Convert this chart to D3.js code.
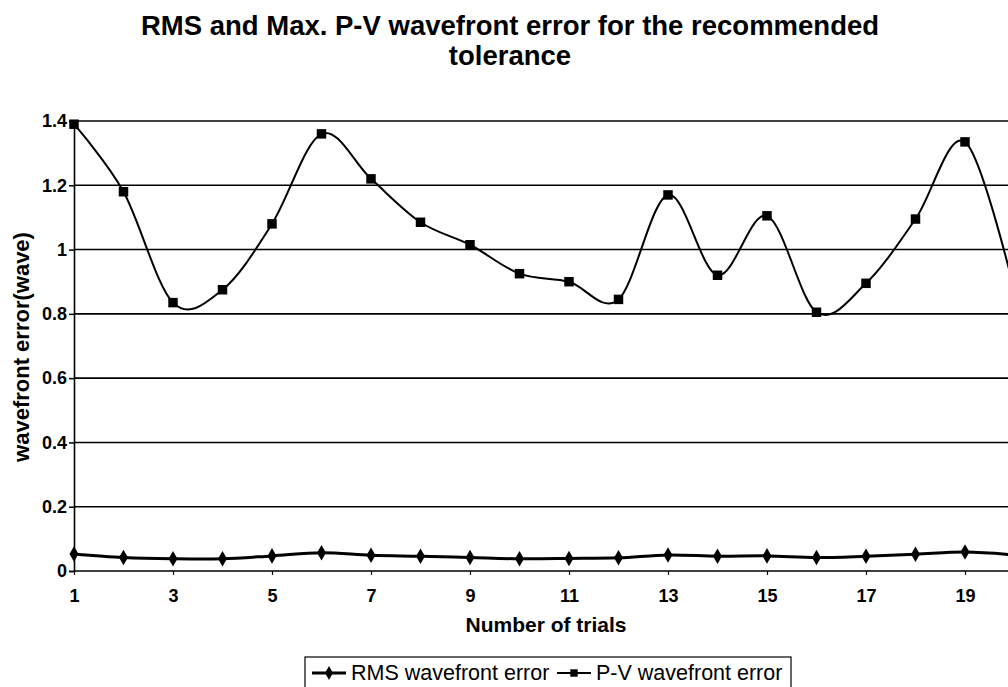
<!DOCTYPE html>
<html>
<head>
<meta charset="utf-8">
<script src="https://cdn.jsdelivr.net/npm/d3@7"></script>
<style>
  html, body { margin: 0; padding: 0; background: #fff; overflow: hidden; }
  svg { display: block; }
</style>
</head>
<body>
<svg id="chart" width="1008" height="687"></svg>
<script>
const trials = d3.range(1, 21);
const rmsError = [0.053, 0.042, 0.038, 0.038, 0.047, 0.057, 0.049, 0.046, 0.042, 0.038,
                  0.039, 0.041, 0.050, 0.046, 0.047, 0.042, 0.046, 0.052, 0.059, 0.050];
const pvError  = [1.39, 1.18, 0.835, 0.875, 1.08, 1.36, 1.22, 1.085, 1.015, 0.925,
                  0.90, 0.845, 1.17, 0.92, 1.105, 0.805, 0.895, 1.095, 1.335, 0.87];
const yTicks = [0, 0.2, 0.4, 0.6, 0.8, 1.0, 1.2, 1.4];
const xTickLabels = [1, 3, 5, 7, 9, 11, 13, 15, 17, 19];
const titleLines = ["RMS and Max. P-V wavefront error for the recommended", "tolerance"];
const seriesNames = ["RMS wavefront error", "P-V wavefront error"];

const svg = d3.select("#chart");
const font = "'Liberation Sans', Arial, sans-serif";

const x = d3.scaleLinear().domain([1, 20]).range([74, 1014.5]);
const y = d3.scaleLinear().domain([0, 1.4]).range([571, 121]);

// Title
svg.append("g").selectAll("text").data(titleLines).join("text")
  .attr("x", 510).attr("y", (d, i) => 35 + i * 30)
  .attr("text-anchor", "middle")
  .attr("font-family", font).attr("font-weight", "bold").attr("font-size", 27.5)
  .text(d => d);

// Gridlines
svg.append("g").selectAll("line").data(yTicks).join("line")
  .attr("x1", x(1)).attr("x2", 1010)
  .attr("y1", d => y(d)).attr("y2", d => y(d))
  .attr("stroke", "#000").attr("stroke-width", 1.6);

// Y axis
const yAxis = svg.append("g").attr("transform", `translate(${x(1)},0)`)
  .call(d3.axisLeft(y).tickValues(yTicks).tickSize(5).tickFormat(d3.format("~g")));
yAxis.select(".domain").attr("stroke", "#000").attr("stroke-width", 1.6);
yAxis.selectAll(".tick line").attr("stroke", "#000").attr("stroke-width", 1.5);
yAxis.selectAll("text").attr("font-family", font).attr("font-weight", "bold")
  .attr("font-size", 18).attr("fill", "#000").attr("x", -7);

// X axis
const xAxis = svg.append("g").attr("transform", `translate(0,${y(0)})`)
  .call(d3.axisBottom(x).tickValues(xTickLabels).tickSize(4).tickFormat(d3.format("d")));
xAxis.select(".domain").remove();
xAxis.selectAll(".tick line").attr("stroke", "#000").attr("stroke-width", 1.2);
xAxis.selectAll("text").attr("font-family", font).attr("font-weight", "bold")
  .attr("font-size", 18).attr("fill", "#000").attr("y", 18);

// Axis titles
svg.append("text")
  .attr("transform", "translate(28.5,347) rotate(-90)")
  .attr("text-anchor", "middle")
  .attr("font-family", font).attr("font-weight", "bold").attr("font-size", 22)
  .text("wavefront error(wave)");
svg.append("text")
  .attr("x", 546).attr("y", 632).attr("text-anchor", "middle")
  .attr("font-family", font).attr("font-weight", "bold").attr("font-size", 21)
  .text("Number of trials");

// Lines
const lineGen = d3.line().x((d, i) => x(trials[i])).y(d => y(d)).curve(d3.curveCatmullRom.alpha(0));
svg.append("path").datum(pvError).attr("d", lineGen)
  .attr("fill", "none").attr("stroke", "#000").attr("stroke-width", 2);
svg.append("path").datum(rmsError).attr("d", lineGen)
  .attr("fill", "none").attr("stroke", "#000").attr("stroke-width", 3);

// Markers
const sq = d3.symbol().type(d3.symbolSquare).size(90);
const dm = d3.symbol().type(d3.symbolDiamond).size(70);
svg.append("g").selectAll("path").data(pvError).join("path")
  .attr("transform", (d, i) => `translate(${x(trials[i])},${y(d)})`)
  .attr("d", sq).attr("fill", "#000");
svg.append("g").selectAll("path").data(rmsError).join("path")
  .attr("transform", (d, i) => `translate(${x(trials[i])},${y(d)})`)
  .attr("d", dm).attr("fill", "#000");

// Legend
const lg = svg.append("g");
lg.append("rect").attr("x", 305).attr("y", 657).attr("width", 486).attr("height", 45)
  .attr("fill", "none").attr("stroke", "#000").attr("stroke-width", 1.2);
const items = [
  { name: seriesNames[0], x0: 312, type: d3.symbolDiamond, sw: 3 },
  { name: seriesNames[1], x0: 557, type: d3.symbolSquare, sw: 2 }
];
items.forEach(it => {
  lg.append("line").attr("x1", it.x0).attr("x2", it.x0 + 34).attr("y1", 673).attr("y2", 673)
    .attr("stroke", "#000").attr("stroke-width", it.sw);
  lg.append("path").attr("transform", `translate(${it.x0 + 17},673)`)
    .attr("d", d3.symbol().type(it.type).size(55))
    .attr("fill", "#000");
  lg.append("text").attr("x", it.x0 + 39).attr("y", 680)
    .attr("font-family", font).attr("font-size", 21.5).text(it.name);
});
</script>
</body>
</html>
